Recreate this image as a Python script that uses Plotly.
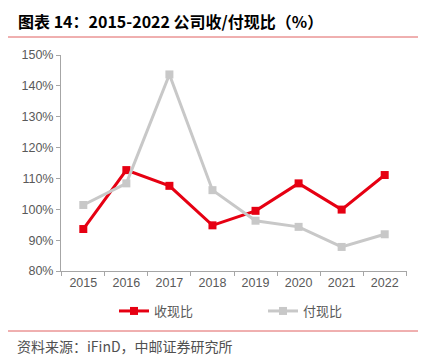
import plotly.graph_objects as go

years = ["2015", "2016", "2017", "2018", "2019", "2020", "2021", "2022"]
shou = [93.6, 112.7, 107.6, 94.8, 99.5, 108.4, 99.9, 111.1]
fu = [101.4, 108.4, 143.7, 106.2, 96.3, 94.3, 87.8, 91.9]
ytickvals = [80, 90, 100, 110, 120, 130, 140, 150]
yticktext = [f"{v}%" for v in ytickvals]

RED = "#E60012"
GRAY = "#C8C8C8"
AX = "#A6A6A6"

OFF = 8  # page body margin
W, H = 438 - OFF, 360 - OFF
L, R, T, B = 61 - OFF, 407 - OFF, 55 - OFF, 271 - OFF
pw, ph = R - L, B - T


def px(x):
    return (x - OFF - L) / pw


def py(y):
    return (B - (y - OFF)) / ph


fig = go.Figure()
fig.add_trace(go.Scatter(x=years, y=shou, name="收现比", mode="lines+markers",
                         line=dict(color=RED, width=3),
                         marker=dict(symbol="square", size=8, color=RED)))
fig.add_trace(go.Scatter(x=years, y=fu, name="付现比", mode="lines+markers",
                         line=dict(color=GRAY, width=3),
                         marker=dict(symbol="square", size=8, color=GRAY)))

fig.update_layout(
    width=W, height=H,
    margin=dict(l=L, r=W - R, t=T, b=H - B, autoexpand=False),
    plot_bgcolor="white", paper_bgcolor="white",
    font=dict(family="Liberation Sans, Arial", size=12.5, color="#595959"),
    showlegend=True,
    legend=dict(orientation="h", x=px(114), xanchor="left", y=py(311), yanchor="middle",
                font=dict(family="Noto Sans CJK SC", size=13, color="#595959"),
                itemwidth=30, entrywidth=104, bgcolor="rgba(0,0,0,0)"),
    xaxis=dict(type="category", showline=True, linecolor=AX, linewidth=1,
               ticks="outside", tickson="boundaries", tickcolor=AX, ticklen=4,
               showgrid=False, tickfont=dict(size=12.5, color="#595959")),
    yaxis=dict(range=[80, 150], tickvals=ytickvals, ticktext=yticktext,
               showline=True, linecolor=AX, linewidth=1, ticks="outside",
               tickcolor=AX, ticklen=4, showgrid=False, zeroline=False,
               tickfont=dict(size=12.5, color="#595959")),
)

x0, x1 = px(0), px(418)
for yy, w in [(7, 2), (37, 1), (331, 1)]:
    fig.add_shape(type="line", xref="paper", yref="paper", x0=x0, x1=x1,
                  y0=py(yy), y1=py(yy), line=dict(color=RED if yy == 7 else "#E06060", width=w))

fig.add_annotation(xref="paper", yref="paper", x=px(16), y=py(21), xanchor="left",
                   yanchor="middle", showarrow=False,
                   text="<b>图表 14：2015-2022 公司收/付现比（%）</b>",
                   font=dict(family="Noto Sans CJK SC", size=16, color="#000000"))
fig.add_annotation(xref="paper", yref="paper", x=px(15), y=py(346), xanchor="left",
                   yanchor="middle", showarrow=False,
                   text="资料来源：iFinD，中邮证券研究所",
                   font=dict(family="Noto Sans CJK SC", size=14, color="#505050"))

fig.write_html("out.html")
